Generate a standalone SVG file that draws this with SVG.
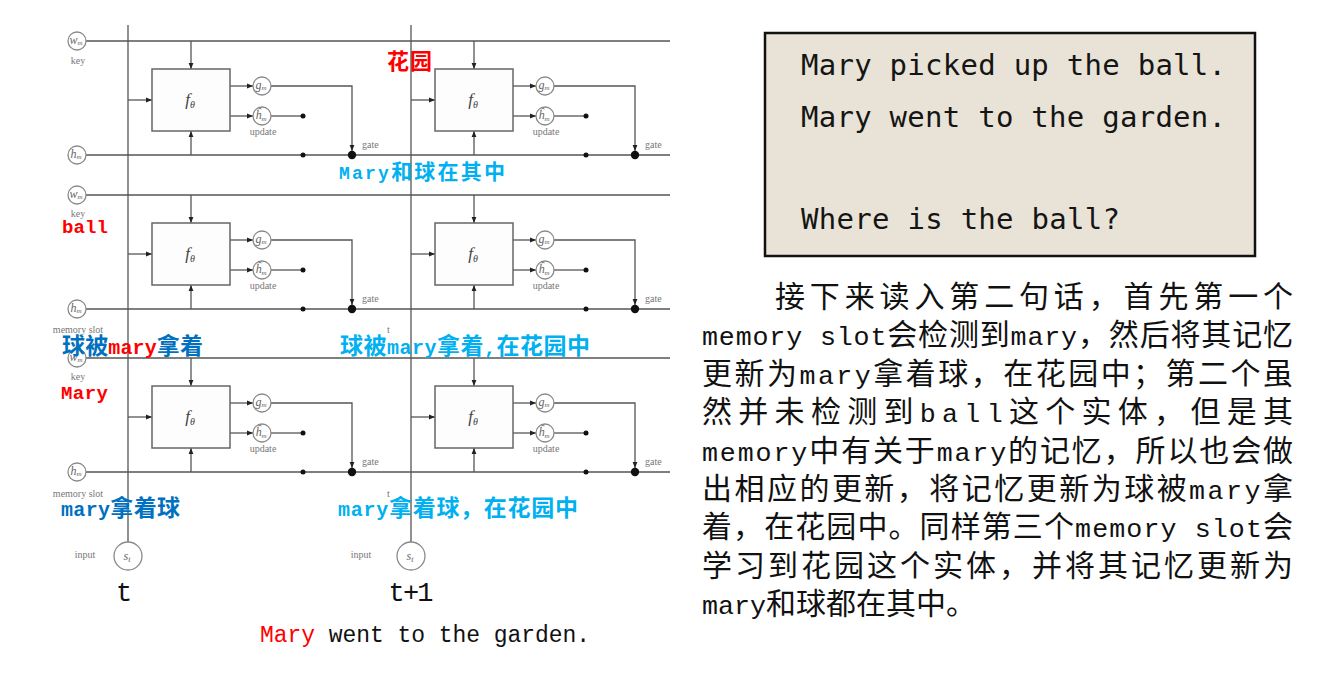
<svg xmlns="http://www.w3.org/2000/svg" xmlns:xlink="http://www.w3.org/1999/xlink" width="1343" height="699" viewBox="0 0 1343 699">
<style>
.ln{stroke:#555;stroke-width:1.3;fill:none}
.ar{stroke:#555;stroke-width:1.3;fill:none;marker-end:url(#ah)}
.box{fill:#fdfdfd;stroke:#666;stroke-width:1.5}
.sc{fill:#fff;stroke:#8a8a8a;stroke-width:1.3}
.dot{fill:#111}
.ci{font-family:"Liberation Serif",serif;font-style:italic;font-size:12px;fill:#666;text-anchor:middle}
.sm{font-family:"Liberation Serif",serif;font-size:10px;fill:#777}
.fth{font-family:"Liberation Serif",serif;font-style:italic;font-size:17px;fill:#444;text-anchor:middle}
.lab{font-family:"Noto Sans CJK SC",sans-serif;font-weight:bold}
.lat{font-family:"Liberation Mono",monospace;font-weight:bold}
.para{font-family:"Noto Sans CJK SC",sans-serif;font-size:30px;fill:#111}
.pl{font-family:"Liberation Mono",monospace;font-size:26.67px}
.box2{font-family:"DejaVu Sans Mono",monospace;font-size:29px;fill:#151515}
.red{fill:#ff0000}
.db{fill:#0070c0}
.lb{fill:#00b0f0}
</style>
<defs>
<marker id="ah" viewBox="0 0 10 10" refX="10" refY="5" markerUnits="userSpaceOnUse" markerWidth="6" markerHeight="6" orient="auto"><path d="M0,1 L10,5 L0,9 Z" fill="#222"/></marker>
<g id="cellNodes">
<rect class="box" x="24" y="28" width="78" height="62"/>
<text class="fth" x="62" y="64">f<tspan font-size="10" dy="3">θ</tspan></text>
<circle class="sc" cx="134" cy="45" r="9"/>
<text class="ci" x="133" y="48">g<tspan font-size="7" dy="1">m</tspan></text>
<circle class="sc" cx="134" cy="75" r="9"/>
<text class="ci" x="133" y="78">ĥ<tspan font-size="7" dy="2">m</tspan></text>
<text class="sm" x="135" y="94" text-anchor="middle">update</text>
<text class="sm" x="234" y="107">gate</text>
<circle class="dot" cx="175" cy="75" r="2.5"/>
<circle class="dot" cx="175" cy="114" r="2.5"/>
<circle class="dot" cx="224" cy="114" r="4.2"/>
</g>
<g id="cellLinks">
<line class="ar" x1="63" y1="0" x2="63" y2="28"/>
<line class="ar" x1="0" y1="59" x2="24" y2="59"/>
<line class="ar" x1="63" y1="114" x2="63" y2="90"/>
<line class="ar" x1="102" y1="45" x2="125" y2="45"/>
<line class="ar" x1="102" y1="75" x2="125" y2="75"/>
<line class="ln" x1="143" y1="75" x2="175" y2="75"/>
<path class="ar" d="M143,45 H224 V110"/>
</g>
</defs>
<rect x="0" y="0" width="1343" height="699" fill="#fff"/>

<g id="connectors">
<line class="ln" x1="128" y1="25" x2="128" y2="542"/>
<line class="ln" x1="411" y1="25" x2="411" y2="542"/>
<line class="ln" x1="86" y1="41" x2="670" y2="41"/>
<line class="ln" x1="86" y1="155" x2="670" y2="155"/>
<line class="ln" x1="86" y1="195" x2="670" y2="195"/>
<line class="ln" x1="86" y1="309" x2="670" y2="309"/>
<line class="ln" x1="86" y1="358" x2="670" y2="358"/>
<line class="ln" x1="86" y1="472" x2="670" y2="472"/>
<use xlink:href="#cellLinks" transform="translate(128,41)"/>
<use xlink:href="#cellLinks" transform="translate(411,41)"/>
<use xlink:href="#cellLinks" transform="translate(128,195)"/>
<use xlink:href="#cellLinks" transform="translate(411,195)"/>
<use xlink:href="#cellLinks" transform="translate(128,358)"/>
<use xlink:href="#cellLinks" transform="translate(411,358)"/>
</g>

<g id="slot1-inputs">
<circle class="sc" cx="77" cy="41" r="9"/>
<text class="ci" x="76" y="44">w<tspan font-size="7" dy="1">m</tspan></text>
<text class="sm" x="78" y="64" text-anchor="middle">key</text>
<circle class="sc" cx="77" cy="155" r="9"/>
<text class="ci" x="76" y="158">h<tspan font-size="7" dy="1">m</tspan></text>
</g>
<g id="slot2-inputs">
<circle class="sc" cx="77" cy="195" r="9"/>
<text class="ci" x="76" y="198">w<tspan font-size="7" dy="1">m</tspan></text>
<text class="sm" x="78" y="217" text-anchor="middle">key</text>
<circle class="sc" cx="77" cy="309" r="9"/>
<text class="ci" x="76" y="312">h<tspan font-size="7" dy="1">m</tspan></text>
<text class="sm" x="78" y="333" text-anchor="middle">memory slot</text>
<text class="sm" x="387" y="333" font-size="8">t</text>
</g>
<g id="slot3-inputs">
<circle class="sc" cx="77" cy="358" r="9"/>
<text class="ci" x="76" y="361">w<tspan font-size="7" dy="1">m</tspan></text>
<text class="sm" x="78" y="380" text-anchor="middle">key</text>
<circle class="sc" cx="77" cy="472" r="9"/>
<text class="ci" x="76" y="475">h<tspan font-size="7" dy="1">m</tspan></text>
<text class="sm" x="78" y="497" text-anchor="middle">memory slot</text>
<text class="sm" x="387" y="497" font-size="8">t</text>
</g>

<g id="cell-r1-t"><use xlink:href="#cellNodes" transform="translate(128,41)"/></g>
<g id="cell-r1-t1"><use xlink:href="#cellNodes" transform="translate(411,41)"/></g>
<g id="cell-r2-t"><use xlink:href="#cellNodes" transform="translate(128,195)"/></g>
<g id="cell-r2-t1"><use xlink:href="#cellNodes" transform="translate(411,195)"/></g>
<g id="cell-r3-t"><use xlink:href="#cellNodes" transform="translate(128,358)"/></g>
<g id="cell-r3-t1"><use xlink:href="#cellNodes" transform="translate(411,358)"/></g>

<g id="input-t">
<circle class="sc" cx="128" cy="556" r="14"/>
<text class="ci" x="127" y="560" font-size="13">s<tspan font-size="8" dy="2">t</tspan></text>
<text class="sm" x="85" y="558" text-anchor="middle">input</text>
<text x="124" y="601" font-family="Liberation Mono,monospace" font-size="27" fill="#111" text-anchor="middle">t</text>
</g>
<g id="input-t1">
<circle class="sc" cx="411" cy="556" r="14"/>
<text class="ci" x="410" y="560" font-size="13">s<tspan font-size="8" dy="2">t</tspan></text>
<text class="sm" x="361" y="558" text-anchor="middle">input</text>
<text x="411" y="601" font-family="Liberation Mono,monospace" font-size="27" fill="#111" text-anchor="middle" textLength="45">t+1</text>
</g>

<g id="labels">
<text class="lab red" x="387" y="69" font-size="22" textLength="45">花园</text>
<text class="lab lb" x="339" y="179" font-size="21" textLength="166"><tspan class="lat" font-size="18">Mary</tspan>和球在其中</text>
<text class="lat red" x="62" y="233" font-size="19" textLength="46">ball</text>
<text class="lab db" x="62" y="354" font-size="23" textLength="141">球被<tspan class="lat red" font-size="20">mary</tspan>拿着</text>
<text class="lab lb" x="340" y="354" font-size="23" textLength="250">球被<tspan class="lat" font-size="20">mary</tspan>拿着<tspan class="lat" font-size="20">,</tspan>在花园中</text>
<text class="lat red" x="61" y="399" font-size="19" textLength="47">Mary</text>
<text class="lab db" x="61" y="516" font-size="23" textLength="119"><tspan class="lat" font-size="20">mary</tspan>拿着球</text>
<text class="lab lb" x="338" y="516" font-size="23" textLength="240"><tspan class="lat" font-size="20">mary</tspan>拿着球，在花园中</text>
</g>

<g id="sentence">
<text x="260" y="642" font-family="Liberation Mono,monospace" font-size="23" fill="#111" textLength="330"><tspan fill="#ff0000">Mary</tspan> went to the garden.</text>
</g>

<g id="story-box">
<rect x="765" y="33" width="490" height="223" fill="#e9e3d7" stroke="#111" stroke-width="2.5"/>
<text class="box2" x="801" y="75" textLength="425">Mary picked up the ball.</text>
<text class="box2" x="801" y="127" textLength="425">Mary went to the garden.</text>
<text class="box2" x="801" y="229" textLength="319">Where is the ball?</text>
</g>

<g id="paragraph" class="para">
<text x="775" y="307" textLength="518" lengthAdjust="spacing">接下来读入第二句话，首先第一个</text>
<text x="702" y="345.4" textLength="591" lengthAdjust="spacing"><tspan class="pl">memory slot</tspan>会检测到<tspan class="pl">mary</tspan>，然后将其记忆</text>
<text x="702" y="383.8" textLength="591" lengthAdjust="spacing">更新为<tspan class="pl">mary</tspan>拿着球，在花园中；第二个虽</text>
<text x="702" y="422.2" textLength="591" lengthAdjust="spacing">然并未检测到<tspan class="pl">ball</tspan>这个实体，但是其</text>
<text x="702" y="460.6" textLength="591" lengthAdjust="spacing"><tspan class="pl">memory</tspan>中有关于<tspan class="pl">mary</tspan>的记忆，所以也会做</text>
<text x="702" y="499" textLength="591" lengthAdjust="spacing">出相应的更新，将记忆更新为球被<tspan class="pl">mary</tspan>拿</text>
<text x="702" y="537.4" textLength="591" lengthAdjust="spacing">着，在花园中。同样第三个<tspan class="pl">memory slot</tspan>会</text>
<text x="702" y="575.8" textLength="591" lengthAdjust="spacing">学习到花园这个实体，并将其记忆更新为</text>
<text x="702" y="614.2"><tspan class="pl">mary</tspan>和球都在其中。</text>
</g>
</svg>
